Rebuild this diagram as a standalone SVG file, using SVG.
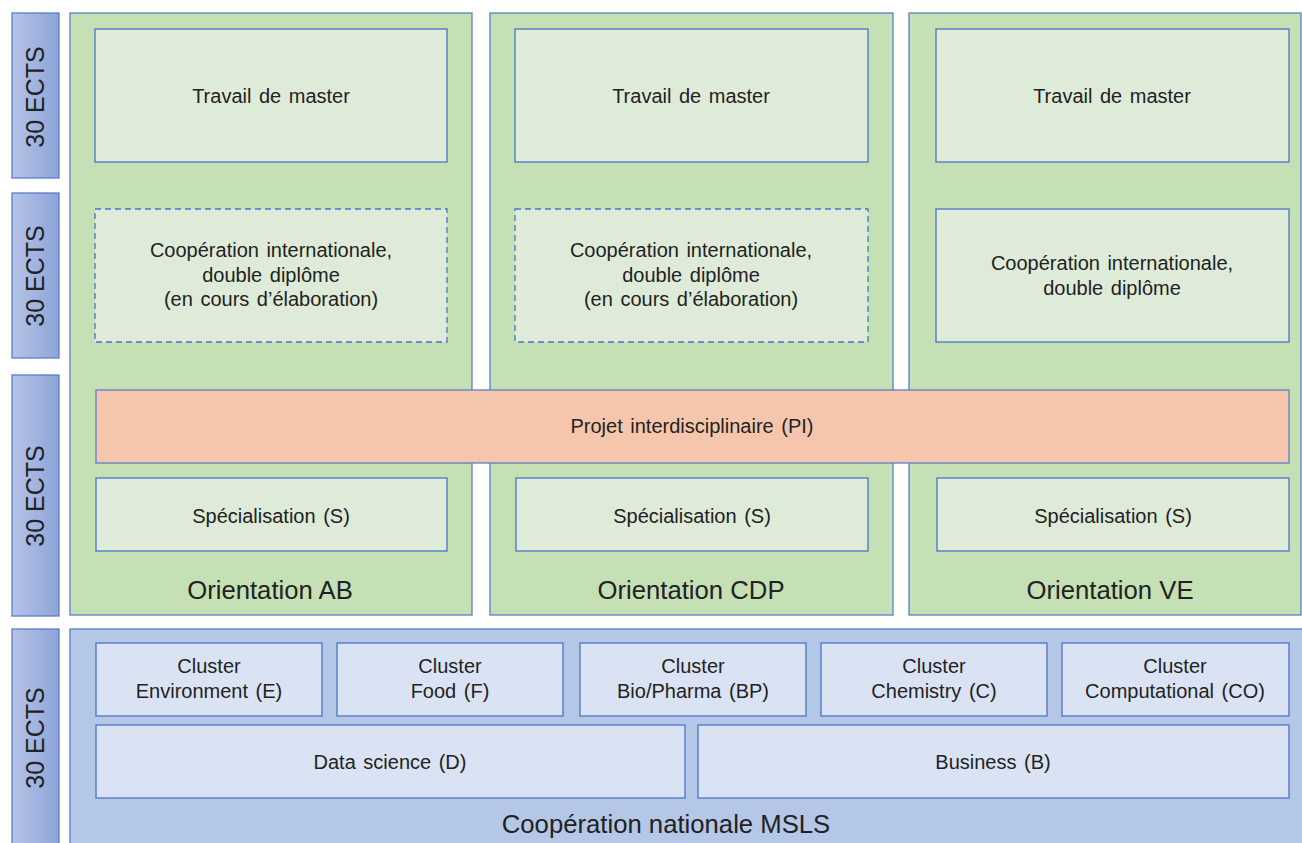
<svg xmlns="http://www.w3.org/2000/svg" width="1302" height="843" viewBox="0 0 1302 843">
<defs>
<linearGradient id="ects" x1="0" y1="0" x2="1" y2="0">
<stop offset="0" stop-color="#B6C4E8"/>
<stop offset="1" stop-color="#8DA3D8"/>
</linearGradient>
<style>
.ects{fill:url(#ects);stroke:#5B7FC8;stroke-width:1.3}
.col{fill:#C5E0B4;stroke:#5B7FC8;stroke-width:1.3}
.inner{fill:#DEEBD9;stroke:#4A74C8;stroke-width:1.3}
.dash{fill:#DEEBD9;stroke:#4A74C8;stroke-width:1.3;stroke-dasharray:6 4}
.pi{fill:#F6C6AC;stroke:#5B7FC8;stroke-width:1.3}
.panel{fill:#B4C7E7;stroke:#5B7FC8;stroke-width:1.3}
.cl{fill:#DAE3F3;stroke:#4A74C8;stroke-width:1.3}
text{font-family:"Liberation Sans",Arial,sans-serif;fill:#222;text-anchor:middle}
.t{font-size:20px;word-spacing:2px}
.big{font-size:25.7px}
.ec{font-size:25px}
</style>
</defs>
<g id="ects-bars">
<rect class="ects" x="12" y="13" width="47" height="165"/>
<text class="ec" transform="translate(44,97) rotate(-90)">30 ECTS</text>
<rect class="ects" x="12" y="193" width="47" height="165"/>
<text class="ec" transform="translate(44,276) rotate(-90)">30 ECTS</text>
<rect class="ects" x="12" y="375" width="47" height="241"/>
<text class="ec" transform="translate(44,496) rotate(-90)">30 ECTS</text>
<rect class="ects" x="12" y="629" width="47" height="220"/>
<text class="ec" transform="translate(44,738) rotate(-90)">30 ECTS</text>
</g>
<g id="col-ab">
<rect class="col" x="70" y="13" width="402" height="602"/>
<text class="big" x="270" y="599">Orientation AB</text>
</g>
<g id="col-cdp">
<rect class="col" x="490" y="13" width="403" height="602"/>
<text class="big" x="691" y="599">Orientation CDP</text>
</g>
<g id="col-ve">
<rect class="col" x="909" y="13" width="392" height="602"/>
<text class="big" x="1110" y="599">Orientation VE</text>
</g>
<g id="tm-ab"><rect class="inner" x="95" y="29" width="352" height="133"/><text class="t" x="271" y="103">Travail de master</text></g>
<g id="tm-cdp"><rect class="inner" x="515" y="29" width="353" height="133"/><text class="t" x="691" y="103">Travail de master</text></g>
<g id="tm-ve"><rect class="inner" x="936" y="29" width="353" height="133"/><text class="t" x="1112" y="103">Travail de master</text></g>
<g id="coop-ab"><rect class="dash" x="95" y="209" width="352" height="133"/>
<text class="t" x="271" y="257">Coopération internationale,</text>
<text class="t" x="271" y="282">double diplôme</text>
<text class="t" x="271" y="306">(en cours d’élaboration)</text></g>
<g id="coop-cdp"><rect class="dash" x="515" y="209" width="353" height="133"/>
<text class="t" x="691" y="257">Coopération internationale,</text>
<text class="t" x="691" y="282">double diplôme</text>
<text class="t" x="691" y="306">(en cours d’élaboration)</text></g>
<g id="coop-ve"><rect class="inner" x="936" y="209" width="353" height="133"/>
<text class="t" x="1112" y="270">Coopération internationale,</text>
<text class="t" x="1112" y="295">double diplôme</text></g>
<g id="pi"><rect class="pi" x="96" y="390" width="1193" height="73"/><text class="t" x="692" y="433">Projet interdisciplinaire (PI)</text></g>
<g id="spec-ab"><rect class="inner" x="96" y="478" width="351" height="73"/><text class="t" x="271" y="523">Spécialisation (S)</text></g>
<g id="spec-cdp"><rect class="inner" x="516" y="478" width="352" height="73"/><text class="t" x="692" y="523">Spécialisation (S)</text></g>
<g id="spec-ve"><rect class="inner" x="937" y="478" width="352" height="73"/><text class="t" x="1113" y="523">Spécialisation (S)</text></g>
<g id="msls">
<rect class="panel" x="70" y="629" width="1240" height="220"/>
<text class="big" x="666" y="833">Coopération nationale MSLS</text>
</g>
<g id="cl-e"><rect class="cl" x="96" y="643" width="226" height="73"/><text class="t" x="209" y="673">Cluster</text><text class="t" x="209" y="698">Environment  (E)</text></g>
<g id="cl-f"><rect class="cl" x="337" y="643" width="226" height="73"/><text class="t" x="450" y="673">Cluster</text><text class="t" x="450" y="698">Food  (F)</text></g>
<g id="cl-bp"><rect class="cl" x="580" y="643" width="226" height="73"/><text class="t" x="693" y="673">Cluster</text><text class="t" x="693" y="698">Bio/Pharma  (BP)</text></g>
<g id="cl-c"><rect class="cl" x="821" y="643" width="226" height="73"/><text class="t" x="934" y="673">Cluster</text><text class="t" x="934" y="698">Chemistry  (C)</text></g>
<g id="cl-co"><rect class="cl" x="1062" y="643" width="227" height="73"/><text class="t" x="1175" y="673">Cluster</text><text class="t" x="1175" y="698">Computational  (CO)</text></g>
<g id="ds"><rect class="cl" x="96" y="725" width="589" height="73"/><text class="t" x="390" y="769">Data science (D)</text></g>
<g id="bus"><rect class="cl" x="698" y="725" width="591" height="73"/><text class="t" x="993" y="769">Business (B)</text></g>
<g id="connectors"></g>
</svg>
